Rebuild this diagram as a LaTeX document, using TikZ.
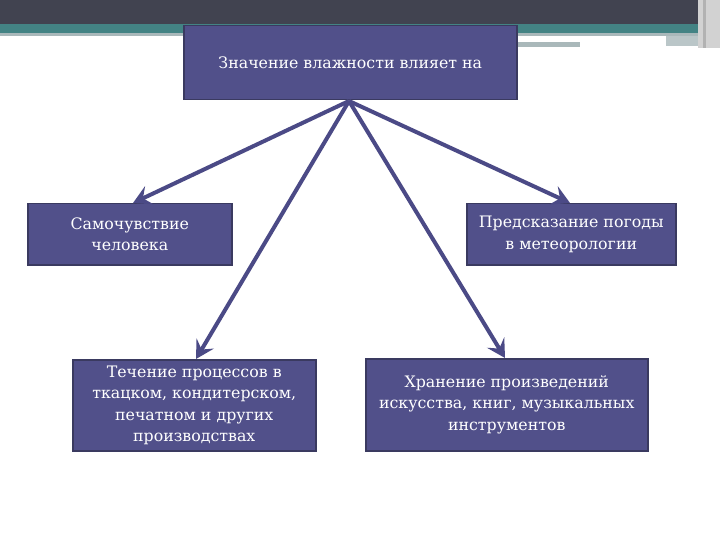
\documentclass[tikz,border=0pt]{standalone}
\usepackage{fontspec}
\setmainfont{DejaVu Serif}
\usetikzlibrary{arrows.meta}
\definecolor{boxfill}{HTML}{51508A}
\definecolor{boxedge}{HTML}{3A3A60}
\definecolor{arrowcol}{HTML}{4B4A86}
\definecolor{topdark}{HTML}{414350}
\definecolor{topteal}{HTML}{438384}
\definecolor{topgray}{HTML}{A9B8BA}
\tikzset{
  box/.style={draw=boxedge, line width=1.5pt, fill=boxfill, text=white, align=center,
    font=\fontsize{15.8}{21.5}\selectfont, inner sep=0pt, anchor=north west},
  conn/.style={draw=arrowcol, line width=4pt, -{Stealth[length=18pt,width=20pt,inset=7pt]}}
}
\begin{document}
\begin{tikzpicture}[x=1pt,y=-1pt]
\useasboundingbox (0,0) rectangle (720,540);
\fill[white] (0,0) rectangle (720,540);
% top decoration
\fill[topdark] (0,0) rectangle (720,24);
\fill[topteal] (0,24) rectangle (720,33);
\fill[topgray] (0,33) rectangle (720,36);
\fill[white] (518,38) rectangle (666,42);
\fill[topgray] (518,42) rectangle (580,47);
\fill[topgray!80] (666,36) rectangle (700,46);
\fill[gray!35] (698,0) rectangle (720,48);
\fill[gray!60] (703,0) rectangle (706,48);
% boxes
\node[box, minimum width=333pt, minimum height=74pt] (top) at (183,25) {Значение влажности влияет на};
\node[box, minimum width=204pt, minimum height=61pt] (b1) at (27,203) {Самочувствие\\человека};
\node[box, minimum width=209pt, minimum height=61pt] (b2) at (466,203) {Предсказание погоды\\в метеорологии};
\node[box, minimum width=243pt, minimum height=91pt] (b3) at (72,359) {Течение процессов в\\ткацком, кондитерском,\\печатном и других\\производствах};
\node[box, minimum width=282pt, minimum height=92pt] (b4) at (365,358) {Хранение произведений\\искусства, книг, музыкальных\\инструментов};
% connectors
\coordinate (src) at (349,101);
\draw[conn] (src) -- (b1.north -| 133,0);
\draw[conn] (src) -- (b2.north -| 570,0);
\draw[conn] (src) -- (b3.north -| 196,0);
\draw[conn] (src) -- (b4.north -| 505,0);
\end{tikzpicture}
\end{document}
